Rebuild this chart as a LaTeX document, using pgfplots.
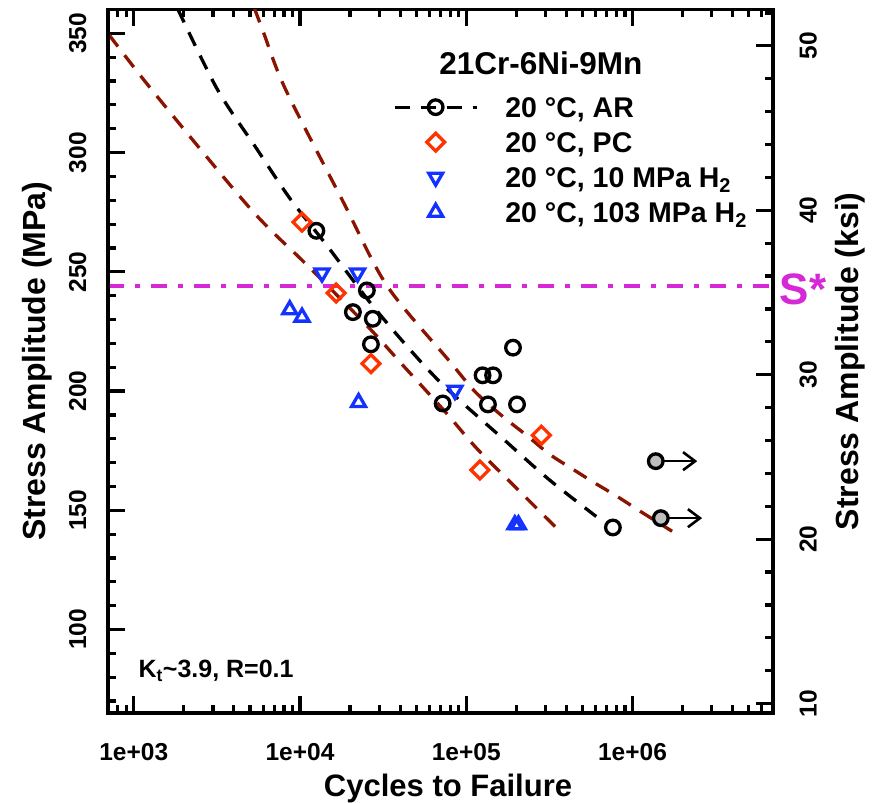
\documentclass[border=0pt]{standalone}
\usepackage{fontspec}
\setmainfont{Liberation Sans}
\usepackage{pgfplots}
\usepackage{pgfplotstable}
\pgfplotsset{compat=1.18}
\usetikzlibrary{arrows.meta}

\definecolor{drk}{RGB}{139,20,0}
\definecolor{pcred}{RGB}{255,51,0}
\definecolor{hblue}{RGB}{20,50,255}
\definecolor{smag}{RGB}{214,40,214}
\definecolor{rgray}{RGB}{190,190,190}

\newcommand\tfont{\bfseries\fontsize{24.5}{28}\selectfont}
\newcommand\lfont{\bfseries\fontsize{28.5}{32}\selectfont}
\newcommand\titlefont{\bfseries\fontsize{31.5}{35}\selectfont}
\newcommand\labfont{\bfseries\fontsize{32}{36}\selectfont}
\newcommand\xlabfont{\bfseries\fontsize{31}{36}\selectfont}
\newcommand\kfont{\bfseries\fontsize{25}{28}\selectfont}
\newcommand\sfont{\bfseries\fontsize{44}{48}\selectfont}

\pgfplotstableread{
N S
12540 267.2
25240 242.2
20800 233.1
27400 230.3
26700 219.6
72100 194.8
191000 218.2
125300 206.6
145000 206.6
135000 194.4
202000 194.4
762000 142.8
}\dataAR

\pgfplotstableread{
N S
1380000 170.6
1480000 146.7
}\dataRun

\pgfplotstableread{
N S
10280 270.8
16500 241.1
26700 211.5
283000 181.5
120900 166.9
}\dataPC

\pgfplotstableread{
N S
13560 249.5
22200 249.5
85500 200.3
}\dataHten

\pgfplotstableread{
N S
8670 234.1
10280 231.0
22500 195.2
196000 143.9
206000 143.9
}\dataHhund

\pgfplotstableread{
N S
1837 360.3
3177 326.6
5500 301.5
8750 280.5
14520 261
28300 234.5
66400 205.2
174500 178.7
317000 162.7
605000 147.4
}\fitAR

\pgfplotstableread{
N S
5320 360.5
6030 350.4
8170 326.6
18200 279.3
33400 244.1
79800 212.3
112700 199.8
166000 189.3
231000 181.4
317000 173.5
436000 167.3
575000 162.0
800000 156.0
1100000 149.8
1730000 141.2
}\fitUp

\pgfplotstableread{
N S
708 349.5
1318 325.3
5040 276.4
10770 253.5
25300 227.4
41700 210.7
74500 191.4
115800 175.9
201000 159.2
365000 141.2
}\fitLow

\begin{document}
\begin{tikzpicture}
\useasboundingbox (0pt,0pt) rectangle (878pt,803pt);
\begin{axis}[
  at={(108pt,90pt)}, anchor=south west,
  width=665pt, height=703.5pt, scale only axis,
  xmode=log, xmin=700, xmax=7e6, ymin=65, ymax=360,
  clip mode=individual,
  axis line style={line width=3.4pt},
  tick align=inside,
  major tick length=17pt, minor tick length=8pt,
  every tick/.style={black, line width=3.2pt},
  xtick={1e3,1e4,1e5,1e6},
  xticklabels={1e+03,1e+04,1e+05,1e+06},
  minor xtick={800,900,2000,3000,4000,5000,6000,7000,8000,9000,20000,30000,40000,50000,60000,70000,80000,90000,200000,300000,400000,500000,600000,700000,800000,900000,2000000,3000000,4000000,5000000,6000000},
  ytick={100,150,200,250,300,350},
  yticklabels={100,150,200,250,300,350},
  minor ytick={70,80,90,110,120,130,140,160,170,180,190,210,220,230,240,260,270,280,290,310,320,330,340},
  ytick pos=left,
  xtick pos=both,
  tick label style={font=\tfont},
  xticklabel style={yshift=-27pt},
  yticklabel style={rotate=90, anchor=south, yshift=18pt},
  legend image code/.code={\draw[mark repeat=2,mark phase=2,#1] plot coordinates {(0pt,0pt) (41pt,0pt) (82pt,0pt)};},
  legend style={at={(axis description cs:0.4286,0.8782)}, anchor=north west, draw=none, fill=none, inner sep=0pt, outer sep=0pt, row sep=11pt, font=\lfont, nodes={inner sep=0pt, text height=22pt, text depth=2pt}, /tikz/every odd column/.append style={column sep=27pt}},
  legend cell align=left,
]
\addplot[drk, line width=3.3pt, dash pattern=on 15pt off 11pt, smooth, forget plot] table {\fitUp};
\addplot[drk, line width=3.3pt, dash pattern=on 15pt off 11pt, smooth, forget plot] table {\fitLow};
\addplot[black, line width=3.3pt, dash pattern=on 15pt off 11pt, smooth, forget plot] table {\fitAR};
\addplot[smag, line width=4pt, dash pattern=on 16pt off 11pt on 5pt off 11pt, forget plot] coordinates {(700,244) (7e6,244)};
\addplot[black, line width=2.6pt, -{Straight Barb[length=12pt,width=18pt]}, forget plot] coordinates {(1380000,170.6) (2450000,170.6)};
\addplot[black, line width=2.6pt, -{Straight Barb[length=12pt,width=18pt]}, forget plot] coordinates {(1480000,146.7) (2620000,146.7)};
\addplot[only marks, mark=*, mark size=7.3pt, mark options={fill=rgray, draw=black, line width=3.3pt}, forget plot] table {\dataRun};
\addplot[only marks, mark=o, black, mark size=7.3pt, mark options={line width=3.3pt}, forget plot] table {\dataAR};
\addplot[only marks, mark=square, pcred, mark size=6.3pt, mark options={rotate=45, line width=3.3pt}, forget plot] table {\dataPC};
\addplot[only marks, mark=triangle, hblue, mark size=8pt, mark options={rotate=180, line width=3.3pt}, forget plot] table {\dataHten};
\addplot[only marks, mark=triangle, hblue, mark size=8pt, mark options={line width=3.3pt}, forget plot] table {\dataHhund};

\addlegendimage{black, line width=3.3pt, dash pattern=on 15pt off 11pt, mark=o, mark size=7.3pt, mark options={solid, line width=3.3pt}}
\addlegendentry{20 °C, AR}
\addlegendimage{only marks, pcred, mark=square, mark size=6.3pt, mark options={rotate=45, line width=3.3pt}}
\addlegendentry{20 °C, PC}
\addlegendimage{only marks, hblue, mark=triangle, mark size=8pt, mark options={rotate=180, line width=3.3pt}}
\addlegendentry{20 °C, 10 MPa H\textsubscript{2}}
\addlegendimage{only marks, hblue, mark=triangle, mark size=8pt, mark options={line width=3.3pt}}
\addlegendentry{20 °C, 103 MPa H\textsubscript{2}}

\node[font=\titlefont] at (axis description cs:0.6511,0.9240) {21Cr-6Ni-9Mn};
\node[font=\kfont, anchor=base west] at (axis description cs:0.0406,0.0498) {K\textsubscript{t}\textasciitilde 3.9, R=0.1};
\node[font=\sfont, text=smag] at (axis description cs:1.0451,0.6027) {S*};
\node[font=\labfont, rotate=90] at (axis description cs:-0.1068,0.5) {Stress Amplitude (MPa)};
\node[font=\xlabfont] at (axis description cs:0.5113,-0.1066) {Cycles to Failure};
\node[font=\labfont, rotate=90] at (axis description cs:1.1158,0.5) {Stress Amplitude (ksi)};
\end{axis}
\begin{axis}[
  at={(108pt,90pt)}, anchor=south west,
  width=665pt, height=703.5pt, scale only axis,
  xmode=log, xmin=700, xmax=7e6, ymin=9.42745, ymax=52.2135,
  hide x axis,
  axis line style={line width=3.4pt},
  tick align=inside,
  major tick length=17pt, minor tick length=8pt,
  every tick/.style={black, line width=3.2pt},
  ytick pos=right,
  ytick={10,20,30,40,50},
  yticklabels={10,20,30,40,50},
  minor ytick={12,14,16,18,22,24,26,28,32,34,36,38,42,44,46,48,52},
  tick label style={font=\tfont},
  yticklabel style={rotate=90, anchor=north, yshift=-23pt},
]
\addplot[draw=none, forget plot] coordinates {(1000,20)};
\end{axis}
\end{tikzpicture}
\end{document}
